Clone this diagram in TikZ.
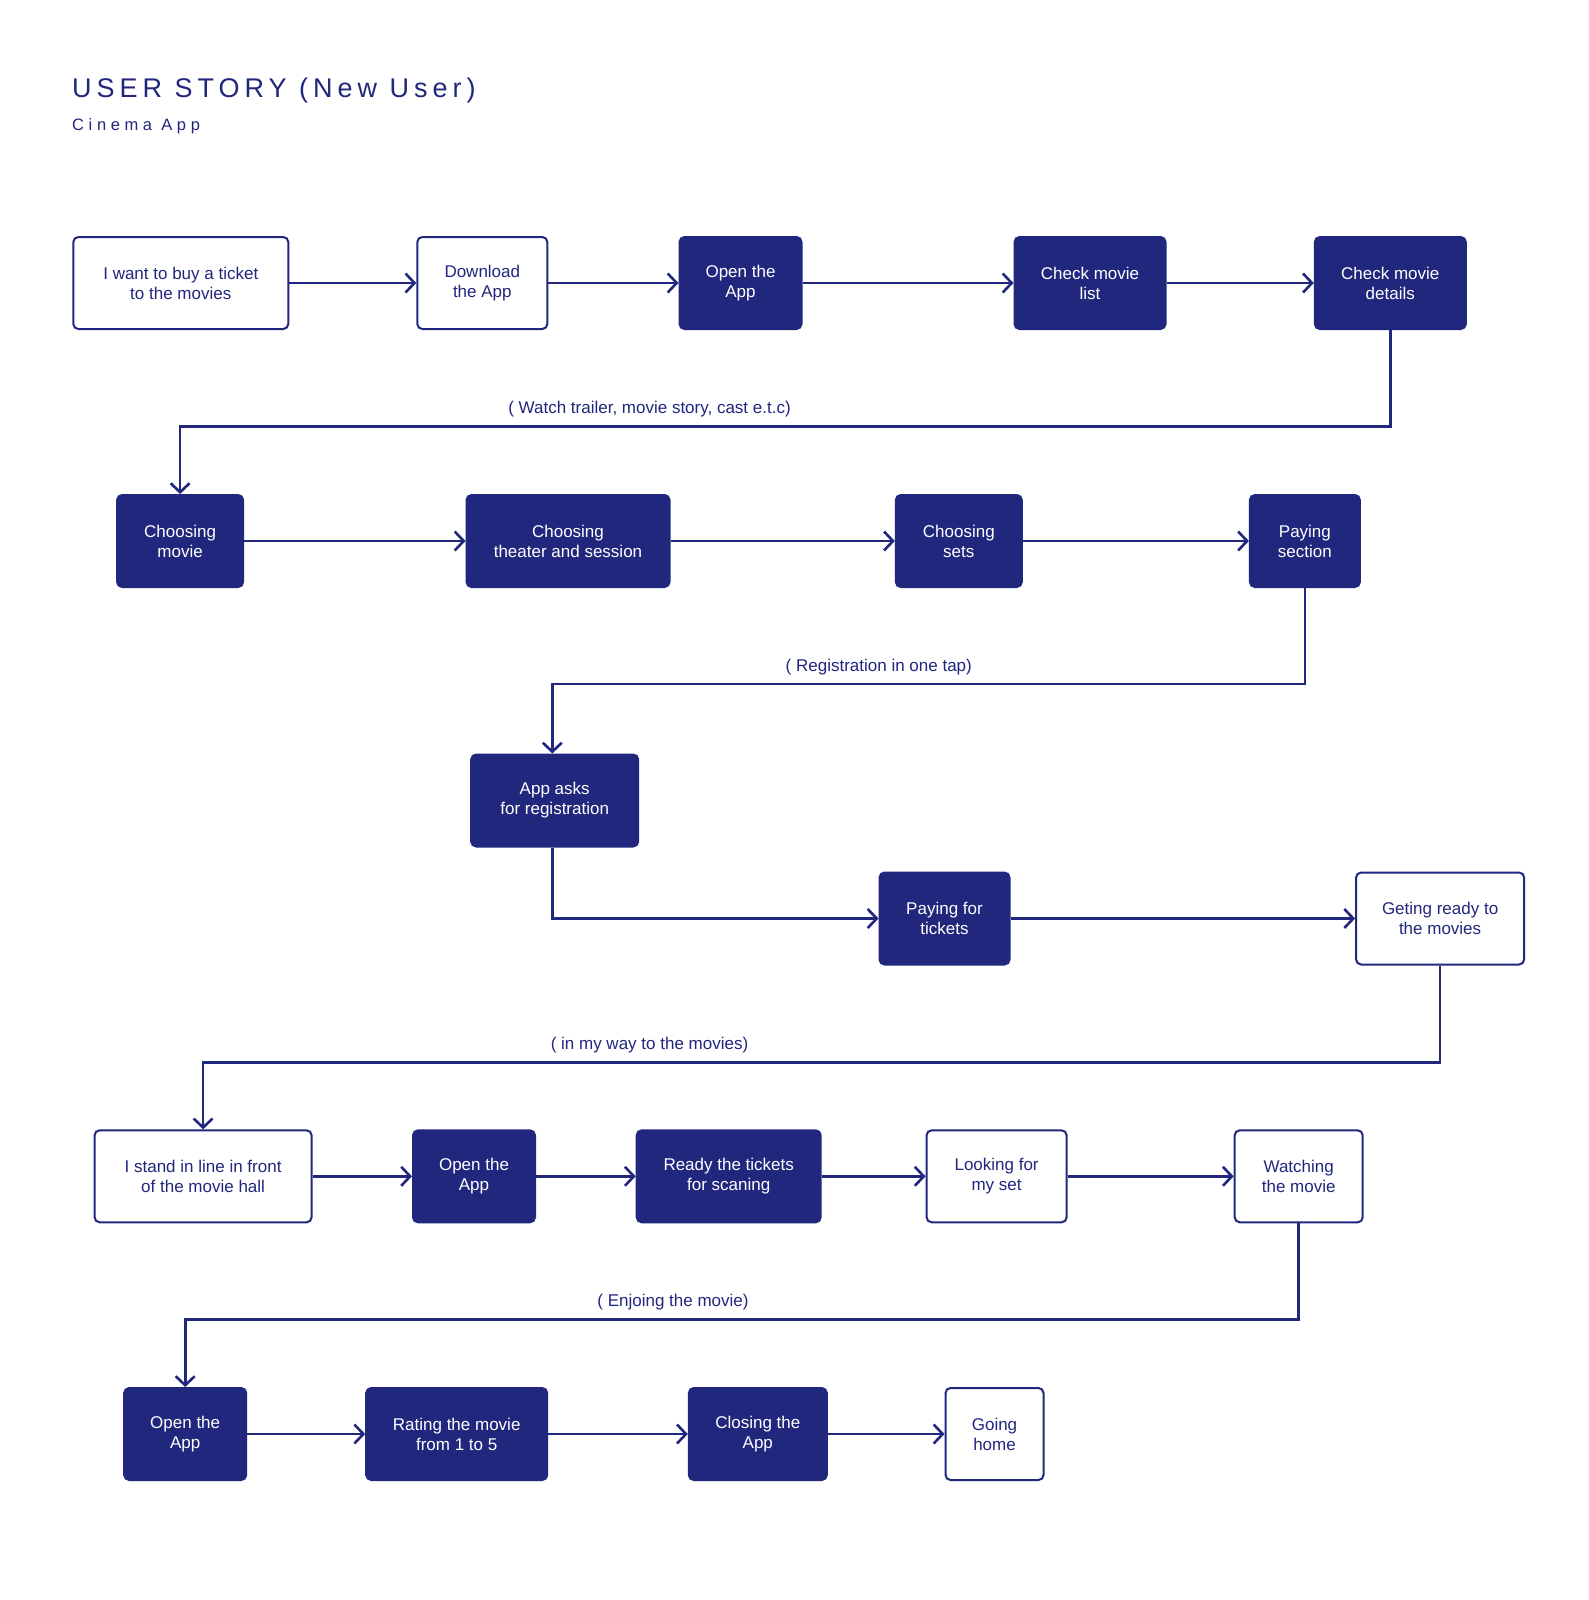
\documentclass[tikz,border=0pt]{standalone}
\usepackage{fontspec}
\setmainfont{Liberation Sans}
\newfontfamily\titlefont[LetterSpace=18.5]{Liberation Sans}
\newfontfamily\subtitlefont[LetterSpace=28]{Liberation Sans}
\usetikzlibrary{arrows.meta}
\definecolor{navy}{RGB}{33,39,125}

\tikzset{
  stepbase/.style={rectangle, rounded corners=5pt, line width=2pt, draw=navy,
    inner sep=0pt, minimum height=92pt, align=center,
    font=\fontsize{17}{20}\selectfont},
  filledbox/.style={stepbase, fill=navy, text=white},
  outlinebox/.style={stepbase, fill=white, text=navy},
  flow/.style={draw=navy, line width=2.6pt,
    -{Straight Barb[length=9pt,width=19pt,line width=2.6pt]}},
  note/.style={text=navy, inner sep=0pt, anchor=base,
    font=\fontsize{17}{20}\selectfont}
}

\begin{document}
\begin{tikzpicture}[x=1pt,y=-1pt]
  \useasboundingbox[fill=white] (0,0) rectangle (1589,1600);

  % heading
  \node[anchor=base west, inner sep=0pt, text=navy, font=\titlefont\fontsize{27}{30}\selectfont]
    (title) at (72,97.5) {USER STORY (New User)};
  \node[anchor=base west, inner sep=0pt, text=navy, font=\subtitlefont\fontsize{16.5}{19}\selectfont]
    (subtitle) at (72,131) {Cinema App};

  % row 1
  \node[outlinebox, minimum width=215pt] (a1) at (180.8,283) {I want to buy a ticket\\to the movies};
  \node[outlinebox, minimum width=130pt] (a2) at (482.3,283) {Download\\the App};
  \node[filledbox,  minimum width=122pt] (a3) at (740.5,283) {Open the\\App};
  \node[filledbox,  minimum width=151pt] (a4) at (1090,283) {Check movie\\list};
  \node[filledbox,  minimum width=151pt] (a5) at (1390.3,283) {Check movie\\details};

  % row 2
  \node[filledbox, minimum width=126pt] (b1) at (180.1,541) {Choosing\\movie};
  \node[filledbox, minimum width=203pt] (b2) at (568,541) {Choosing\\theater and session};
  \node[filledbox, minimum width=126pt] (b3) at (958.8,541) {Choosing\\sets};
  \node[filledbox, minimum width=110pt] (b4) at (1304.9,541) {Paying\\section};

  % row 3
  \node[filledbox,  minimum width=167pt] (c1) at (554.7,800.5) {App asks\\for registration};
  \node[filledbox,  minimum width=130pt] (c2) at (944.5,918.5) {Paying for\\tickets};
  \node[outlinebox, minimum width=168pt] (c3) at (1440.1,918.5) {Geting ready to\\the movies};

  % row 4
  \node[outlinebox, minimum width=217pt] (d1) at (203.1,1176.3) {I stand in line in front\\of the movie hall};
  \node[filledbox,  minimum width=122pt] (d2) at (474,1176.3) {Open the\\App};
  \node[filledbox,  minimum width=184pt] (d3) at (728.7,1176.3) {Ready the tickets\\for scaning};
  \node[outlinebox, minimum width=140pt] (d4) at (996.6,1176.3) {Looking for\\my set};
  \node[outlinebox, minimum width=128pt] (d5) at (1298.7,1176.3) {Watching\\the movie};

  % row 5
  \node[filledbox,  minimum width=122pt] (e1) at (185.2,1434) {Open the\\App};
  \node[filledbox,  minimum width=181pt] (e2) at (456.7,1434) {Rating the movie\\from 1 to 5};
  \node[filledbox,  minimum width=138pt] (e3) at (757.8,1434) {Closing the\\App};
  \node[outlinebox, minimum width=98pt]  (e4) at (994.5,1434) {Going\\home};

  % levels of the return connectors
  \coordinate (t1) at (0,426.6);
  \coordinate (t2) at (0,684);
  \coordinate (t3) at (0,1062.4);
  \coordinate (t4) at (0,1319.6);
  \coordinate (drop) at (552.3,0);

  % connector notes
  \node[note] (n1) at (649.5,413.5) {( Watch trailer, movie story, cast e.t.c)};
  \node[note] (n2) at (878.8,671) {( Registration in one tap)};
  \node[note] (n3) at (649.5,1049.4) {( in my way to the movies)};
  \node[note] (n4) at (673,1306.6) {( Enjoing the movie)};

  % connectors
  \draw[flow] (a1) -- (a2);
  \draw[flow] (a2) -- (a3);
  \draw[flow] (a3) -- (a4);
  \draw[flow] (a4) -- (a5);
  \draw[flow] (a5.south) |- (b1.north |- t1) -- (b1.north);

  \draw[flow] (b1) -- (b2);
  \draw[flow] (b2) -- (b3);
  \draw[flow] (b3) -- (b4);
  \draw[flow] (b4.south) |- (drop |- t2) -- (drop |- c1.north);

  \draw[flow] (drop |- c1.south) |- (c2.west);
  \draw[flow] (c2) -- (c3);
  \draw[flow] (c3.south) |- (d1.north |- t3) -- (d1.north);

  \draw[flow] (d1) -- (d2);
  \draw[flow] (d2) -- (d3);
  \draw[flow] (d3) -- (d4);
  \draw[flow] (d4) -- (d5);
  \draw[flow] (d5.south) |- (e1.north |- t4) -- (e1.north);

  \draw[flow] (e1) -- (e2);
  \draw[flow] (e2) -- (e3);
  \draw[flow] (e3) -- (e4);
\end{tikzpicture}
\end{document}
